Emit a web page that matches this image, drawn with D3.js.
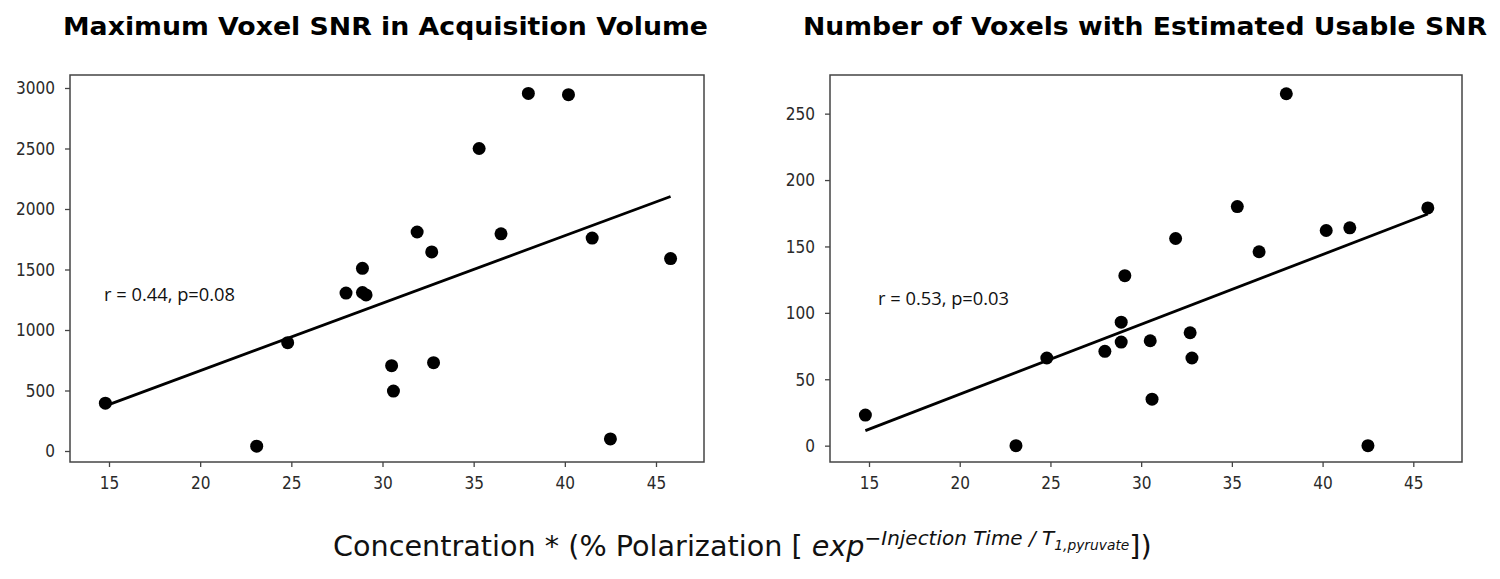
<!DOCTYPE html>
<html>
<head>
<meta charset="utf-8">
<script src="https://cdn.jsdelivr.net/npm/d3@7"></script>
<style>
  html, body { margin: 0; padding: 0; background: #fff; }
  svg { display: block; }
  text { white-space: pre; }
</style>
</head>
<body>
<svg id="chart" width="1500" height="579"></svg>
<script>
// ---- data ----
const concentration = [14.8, 23.1, 24.8, 28.0, 28.9, 28.9, 29.1, 30.5, 30.6, 31.9, 32.7, 32.8, 35.3, 36.5, 38.0, 40.2, 41.5, 42.5, 45.8];
const maxVoxelSNR   = [395, 40, 895, 1305, 1510, 1310, 1290, 705, 495, 1810, 1645, 730, 2500, 1795, 2955, 2945, 1760, 100, 1590];
const usableVoxels  = [23, 0, 66, 71, 93, 78, 128, 79, 35, 156, 85, 66, 180, 146, 265, 162, 164, 0, 179];

const xTicks = [15, 20, 25, 30, 35, 40, 45];
const yTicksLeft = [0, 500, 1000, 1500, 2000, 2500, 3000];
const yTicksRight = [0, 50, 100, 150, 200, 250];

const titles = ["Maximum Voxel SNR in Acquisition Volume", "Number of Voxels with Estimated Usable SNR"];
const annotations = ["r = 0.44, p=0.08", "r = 0.53, p=0.03"];

// ---- drawing ----
const svg = d3.select("#chart");

function linreg(xs, ys) {
  const mx = d3.mean(xs), my = d3.mean(ys);
  let sxy = 0, sxx = 0;
  xs.forEach((x, i) => { sxy += (x - mx) * (ys[i] - my); sxx += (x - mx) * (x - mx); });
  const b = sxy / sxx;
  return { b, a: my - b * mx };
}

function panel(cfg) {
  const g = svg.append("g");
  const x = d3.scaleLinear().domain(cfg.xDomain).range([cfg.left, cfg.right]);
  const y = d3.scaleLinear().domain(cfg.yDomain).range([cfg.bottom, cfg.top]);

  // axes
  const xAxis = d3.axisBottom(x).tickValues(xTicks).tickSize(5).tickPadding(9).tickFormat(d3.format("d"));
  const yAxis = d3.axisLeft(y).tickValues(cfg.yTicks).tickSize(5).tickPadding(10).tickFormat(d3.format("d"));

  const gx = g.append("g").attr("transform", `translate(0,${cfg.bottom})`).call(xAxis);
  const gy = g.append("g").attr("transform", `translate(${cfg.left},0)`).call(yAxis);
  [gx, gy].forEach(a => {
    a.select(".domain").remove();
    a.selectAll(".tick line").attr("stroke", "#444").attr("stroke-width", 1.3);
    a.selectAll(".tick text")
      .attr("fill", "#2a2a2a")
      .style("font-family", "'DejaVu Sans', sans-serif")
      .style("font-size", "18.5px");
  });
  gx.selectAll(".tick text").attr("transform", "scale(0.83,1)");
  gy.selectAll(".tick text").attr("x", -15 / 0.83).attr("transform", "scale(0.83,1)");

  // frame
  g.append("rect")
    .attr("x", cfg.left).attr("y", cfg.top)
    .attr("width", cfg.right - cfg.left).attr("height", cfg.bottom - cfg.top)
    .attr("fill", "none").attr("stroke", "#444").attr("stroke-width", 1.5);

  // regression line
  const fit = linreg(concentration, cfg.values);
  const xr = d3.extent(concentration);
  g.append("line")
    .attr("x1", x(xr[0])).attr("y1", y(fit.a + fit.b * xr[0]))
    .attr("x2", x(xr[1])).attr("y2", y(fit.a + fit.b * xr[1]))
    .attr("stroke", "#000").attr("stroke-width", 2.8);

  // points
  g.selectAll("circle.pt").data(concentration).join("circle")
    .attr("class", "pt")
    .attr("cx", d => x(d))
    .attr("cy", (d, i) => y(cfg.values[i]))
    .attr("r", 6.5)
    .attr("fill", "#000");

  // annotation
  g.append("text")
    .attr("x", cfg.annX).attr("y", cfg.annY)
    .attr("textLength", 131).attr("lengthAdjust", "spacingAndGlyphs")
    .style("font-family", "'Open Sans', sans-serif")
    .style("font-size", "18px")
    .attr("fill", "#111")
    .text(cfg.annotation);

  // title
  g.append("text")
    .attr("x", cfg.titleX).attr("y", 35)
    .attr("textLength", cfg.titleW).attr("lengthAdjust", "spacingAndGlyphs")
    .style("font-family", "'DejaVu Sans', sans-serif")
    .style("font-size", "25.5px")
    .style("font-weight", "bold")
    .attr("fill", "#000")
    .text(cfg.title);
}

panel({
  left: 70, right: 704, top: 75, bottom: 462,
  xDomain: [12.861, 47.633], yDomain: [-90.9, 3107.4],
  yTicks: yTicksLeft, values: maxVoxelSNR,
  annotation: annotations[0], annX: 104, annY: 300.5,
  title: titles[0], titleX: 63, titleW: 645
});

panel({
  left: 830, right: 1462, top: 75, bottom: 462,
  xDomain: [12.850, 47.684], yDomain: [-12.3, 279.1],
  yTicks: yTicksRight, values: usableVoxels,
  annotation: annotations[1], annX: 878, annY: 305,
  title: titles[1], titleX: 803, titleW: 684
});

// shared x label
const lab = svg.append("text")
  .attr("x", 333).attr("y", 556)
  .style("font-family", "'DejaVu Sans', sans-serif")
  .style("font-size", "28px")
  .attr("fill", "#111");
lab.append("tspan").text("Concentration * (% Polarization [ ");
lab.append("tspan").style("font-style", "italic").text("exp");
lab.append("tspan").style("font-style", "italic").style("font-size", "19.5px").attr("dy", -11).text("\u2212Injection Time / T");
lab.append("tspan").style("font-style", "italic").style("font-size", "13.5px").attr("dy", 5).text("1,pyruvate");
lab.append("tspan").attr("dy", 6).text("])");
const w = lab.node().getBBox().width;
lab.attr("transform", `translate(333,0) scale(${819 / w},1) translate(-333,0)`);
</script>
</body>
</html>
